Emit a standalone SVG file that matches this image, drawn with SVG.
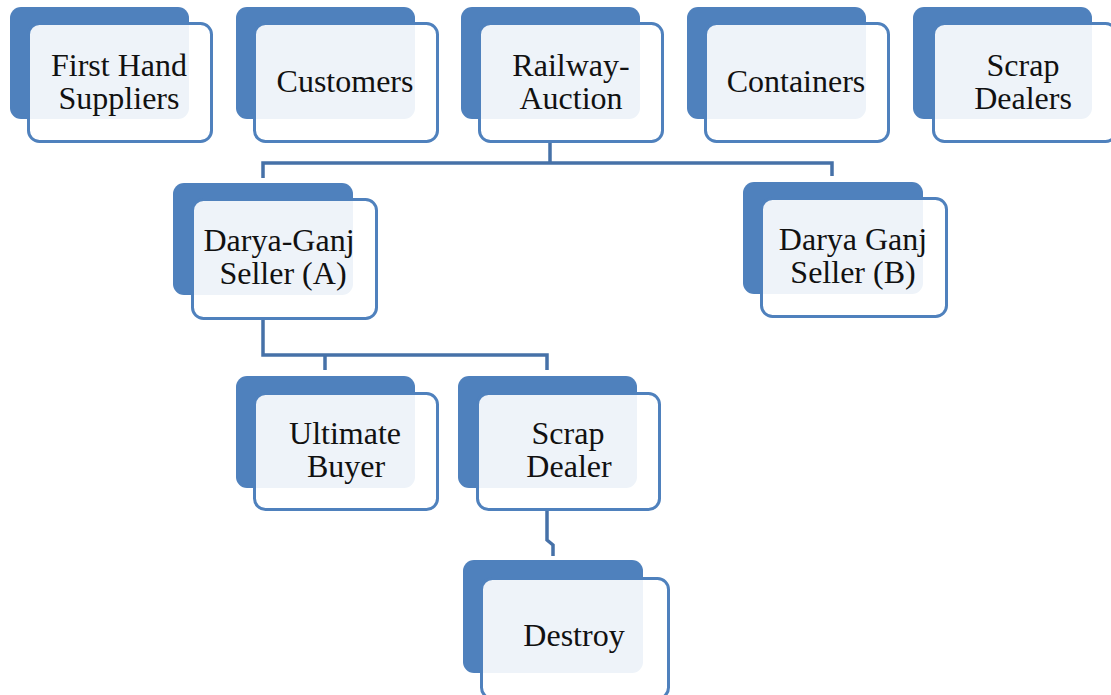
<svg xmlns="http://www.w3.org/2000/svg" width="1111" height="695" viewBox="0 0 1111 695">
<style>
.bk{fill:#4f81bd}
.fr{fill:#ffffff;fill-opacity:0.9;stroke:#4f81bd;stroke-width:3}
.t{font-family:"Liberation Serif","Times New Roman",serif;font-size:32px;fill:#111;text-anchor:middle}
.c{fill:none;stroke:#4671a8;stroke-width:3.5;stroke-linejoin:miter}
</style>
<rect width="1111" height="695" fill="#ffffff"/>
<g id="connectors">
<path class="c" d="M550,143 V163 M263,178 V163 H832 V176"/>
<path class="c" d="M263,320 V355 H547 V370 M325,355 V370"/>
<path class="c" d="M547,511 V540 L553,545 V556"/>
</g>
<g id="n1">
<rect class="bk" x="10" y="7" width="179" height="112" rx="11"/>
<rect class="fr" x="28.5" y="23.5" width="183" height="118" rx="11"/>
<text class="t" x="119" y="76">First Hand</text>
<text class="t" x="119" y="109">Suppliers</text>
</g>
<g id="n2">
<rect class="bk" x="236" y="7" width="179" height="112" rx="11"/>
<rect class="fr" x="254.5" y="23.5" width="183" height="118" rx="11"/>
<text class="t" x="345" y="92">Customers</text>
</g>
<g id="n3">
<rect class="bk" x="461" y="7" width="179" height="112" rx="11"/>
<rect class="fr" x="479.5" y="23.5" width="183" height="118" rx="11"/>
<text class="t" x="571" y="76">Railway-</text>
<text class="t" x="571" y="109">Auction</text>
</g>
<g id="n4">
<rect class="bk" x="687" y="7" width="179" height="112" rx="11"/>
<rect class="fr" x="705.5" y="23.5" width="183" height="118" rx="11"/>
<text class="t" x="796" y="92">Containers</text>
</g>
<g id="n5">
<rect class="bk" x="913" y="7" width="179" height="112" rx="11"/>
<rect class="fr" x="933.5" y="23.5" width="183" height="118" rx="11"/>
<text class="t" x="1023" y="76">Scrap</text>
<text class="t" x="1023" y="109">Dealers</text>
</g>
<g id="n6">
<rect class="bk" x="173" y="183" width="180" height="112" rx="11"/>
<rect class="fr" x="192.5" y="199.5" width="184" height="119" rx="11"/>
<text class="t" x="279" y="251">Darya-Ganj</text>
<text class="t" x="283" y="284">Seller (A)</text>
</g>
<g id="n7">
<rect class="bk" x="743" y="182" width="180" height="112" rx="11"/>
<rect class="fr" x="761.5" y="198.5" width="185" height="118" rx="11"/>
<text class="t" x="853" y="250">Darya Ganj</text>
<text class="t" x="853" y="283">Seller (B)</text>
</g>
<g id="n8">
<rect class="bk" x="236" y="376" width="179" height="112" rx="11"/>
<rect class="fr" x="254.5" y="393.5" width="183" height="116" rx="11"/>
<text class="t" x="345" y="444">Ultimate</text>
<text class="t" x="346" y="477">Buyer</text>
</g>
<g id="n9">
<rect class="bk" x="458" y="376" width="179" height="112" rx="11"/>
<rect class="fr" x="477.5" y="393.5" width="182" height="116" rx="11"/>
<text class="t" x="568" y="444">Scrap</text>
<text class="t" x="569" y="477">Dealer</text>
</g>
<g id="n10">
<rect class="bk" x="463" y="560" width="180" height="113" rx="11"/>
<rect class="fr" x="481.5" y="578.5" width="187" height="120" rx="11"/>
<text class="t" x="574" y="646">Destroy</text>
</g>
</svg>
